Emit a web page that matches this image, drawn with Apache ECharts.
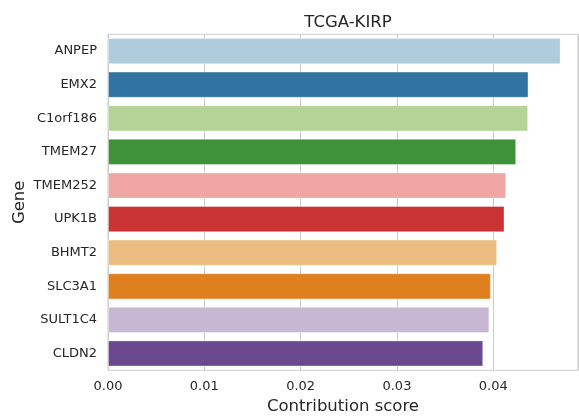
<!DOCTYPE html>
<html><head><meta charset="utf-8">
<script src="https://cdn.jsdelivr.net/npm/echarts@6/dist/echarts.min.js"></script>
<style>html,body{margin:0;padding:0;background:#fff}#c{width:579px;height:416px}</style>
</head><body><div id="c"></div>
<script>
const genes = ['ANPEP','EMX2','C1orf186','TMEM27','TMEM252','UPK1B','BHMT2','SLC3A1','SULT1C4','CLDN2'];
const scores = [0.0470,0.04366,0.04362,0.04238,0.04134,0.04117,0.0404,0.03975,0.0396,0.03896];
const colors = ['#aeccdb','#3274a1','#b3d495','#40923a','#efa6a5','#ca3335','#ebbd81','#df7f20','#c8b7d2','#6a498e'];
const xTicks = [0,0.01,0.02,0.03,0.04];
const font = 'DejaVu Sans';
const chart = echarts.init(document.getElementById('c'), null, {renderer:'canvas'});
chart.setOption({
  animation:false,
  backgroundColor:'#fff',
  title:{text:'TCGA-KIRP', left:343, top:9, textAlign:'center',
    textStyle:{fontFamily:font, fontSize:16.5, fontWeight:'normal', color:'#262626'}},
  grid:{left:108, right:1, top:34.3, bottom:45.7, containLabel:false, outerBoundsMode:'none',
    show:true, borderColor:'#cccccc', borderWidth:1},
  xAxis:{type:'value', min:0, max:0.0488, interval:0.01,
    name:'Contribution score', nameLocation:'middle', nameGap:28, nameMoveOverlap:false,
    nameTextStyle:{fontFamily:font, fontSize:16.5, color:'#262626'},
    axisLine:{show:false}, axisTick:{show:false},
    axisLabel:{fontFamily:font, fontSize:13, color:'#262626', margin:10,
      formatter:v=> xTicks.some(t=>Math.abs(t-v)<1e-9) ? v.toFixed(2) : '' , showMaxLabel:false},
    splitLine:{show:true, lineStyle:{color:'#cccccc', width:1}}},
  yAxis:{type:'category', data:genes, inverse:true,
    name:'Gene', nameLocation:'middle', nameGap:80, nameMoveOverlap:false,
    nameTextStyle:{fontFamily:font, fontSize:16.5, color:'#262626'},
    axisLine:{show:false}, axisTick:{show:false},
    axisLabel:{fontFamily:font, fontSize:13, color:'#262626', margin:11},
    splitLine:{show:false}},
  series:[{type:'bar', barCategoryGap:'22%',
    data:scores.map((v,i)=>({value:v, itemStyle:{color:colors[i]}})),
    itemStyle:{borderColor:'rgba(255,255,255,0.35)', borderWidth:1}}]
});
</script></body></html>
